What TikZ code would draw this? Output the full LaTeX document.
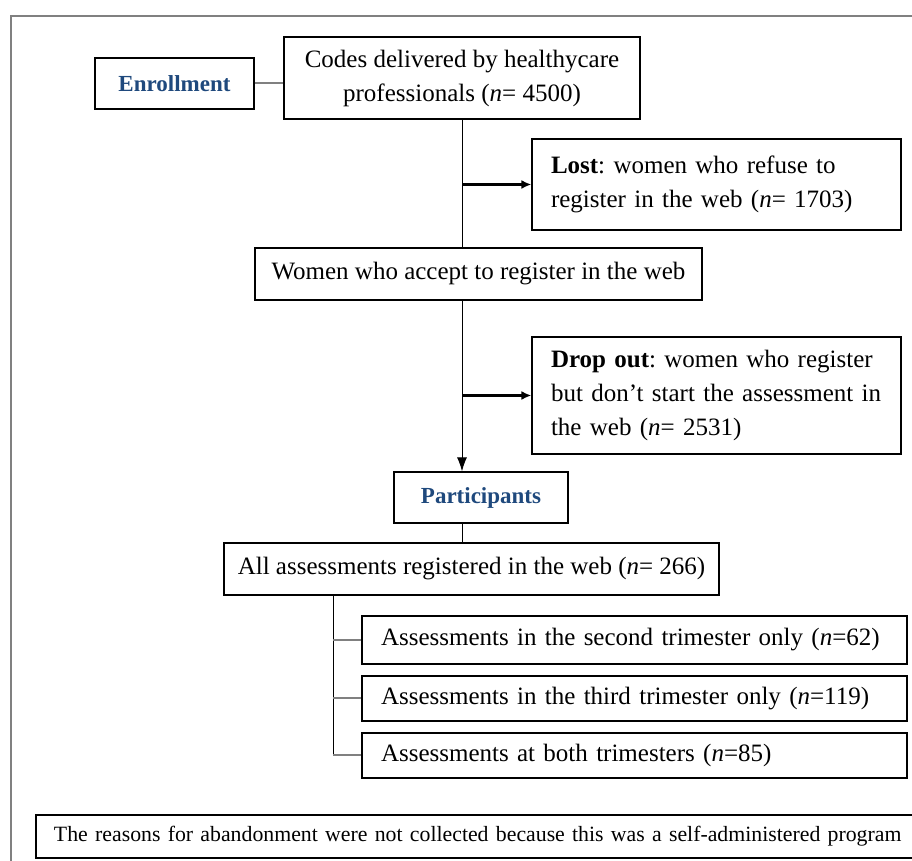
\documentclass[tikz,border=0pt]{standalone}
\usepackage{fontspec}
\setmainfont{Liberation Serif}
\usepackage[svgnames]{xcolor}
\usetikzlibrary{positioning, arrows, arrows.meta, calc, shadows}
\definecolor{headblue}{HTML}{1F497D}
\def\px{0.5pt}
\frenchspacing
\tikzset{
    box/.style={draw=black, line width=0.6pt, fill=white, inner sep=0pt,
        drop shadow={shadow xshift=0.7pt, shadow yshift=-0.7pt, fill=gray, opacity=0.7}},
    headbox/.style={box, font=\fontsize{11.5}{14}\selectfont\bfseries, text=headblue},
    textbox/.style={box, align=left, inner xsep=19*\px},
    link/.style={gray, line width=1pt},
    flow/.style={black, line width=0.5pt},
    exitarrow/.style={black, line width=1.3pt, -{Latex[length=5pt, width=4.5pt]}},
}

\begin{document}
\begin{tikzpicture}[x=0.5pt, y=-0.5pt, font=\fontsize{12.5}{17}\selectfont]
    \useasboundingbox (0,0) rectangle (912,861);
    \clip (0,0) rectangle (912,861);

    % frame
    \draw[gray, line width=0.8pt] (11,900) -- (11,16) -- (930,16);

    % enrollment part
    \node[headbox, minimum width=159*\px, minimum height=51*\px] (enroll) at (174.5,83.5) {Enrollment};
    \node[box, align=center, minimum width=356*\px, minimum height=82*\px] (codes) at (462,78)
        {Codes delivered by healthycare\\professionals (\textit{n}= 4500)};
    \node[textbox, text width=331*\px, minimum height=91*\px] (lost) at (716.5,184.5)
        {\textbf{Lost}: women who refuse to\\register in the web (\textit{n}= 1703)};
    \node[box, minimum width=447*\px, minimum height=52*\px] (women) at (478.5,274)
        {Women who accept to register in the web};
    \node[textbox, text width=331*\px, minimum height=117*\px] (drop) at (716.5,395.5)
        {\textbf{Drop out}: women who register\\but don't start the assessment in\\the web (\textit{n}= 2531)};

    % participants part
    \node[headbox, minimum width=174*\px, minimum height=51*\px] (part) at (481,497.5) {Participants};
    \node[box, minimum width=495*\px, minimum height=52*\px] (all) at (471.5,569)
        {All assessments registered in the web (\textit{n}= 266)};

    \foreach \name/\y/\h/\txt in {
        second/640/48/{Assessments in the second trimester only (\textit{n}=62)},
        third/698.5/45/{Assessments in the third trimester only (\textit{n}=119)},
        both/755.5/45/{Assessments at both trimesters (\textit{n}=85)}}{
        \node[textbox, text width=507*\px, minimum height=\h*\px] (\name) at (634.5,\y) {\txt};
    }

    % note
    \node[textbox, inner xsep=18*\px, text width=858*\px, minimum height=43*\px,
        font=\fontsize{10.9}{14}\selectfont] (note) at (483,836.5)
        {The reasons for abandonment were not collected because this was a self-administered program};

    % connectors
    \draw[link] (enroll.east) -- (enroll.east -| codes.west);
    \draw[flow] (codes.south) -- (codes.south |- women.north);
    \draw[exitarrow] (codes.south |- lost.west) -- (lost.west);
    \draw[flow, -{Latex[length=7pt, width=5pt]}] (codes.south |- women.south) -- (codes.south |- part.north);
    \draw[exitarrow] (codes.south |- drop.west) -- (drop.west);
    \draw[flow] (codes.south |- part.south) -- (codes.south |- all.north);

    \coordinate (fork) at ([xshift=110*\px]all.south west);
    \draw[flow] (fork) -- (fork |- both.west);
    \foreach \name in {second, third, both}{
        \draw[link] (fork |- \name.west) -- (\name.west);
    }
\end{tikzpicture}
\end{document}
